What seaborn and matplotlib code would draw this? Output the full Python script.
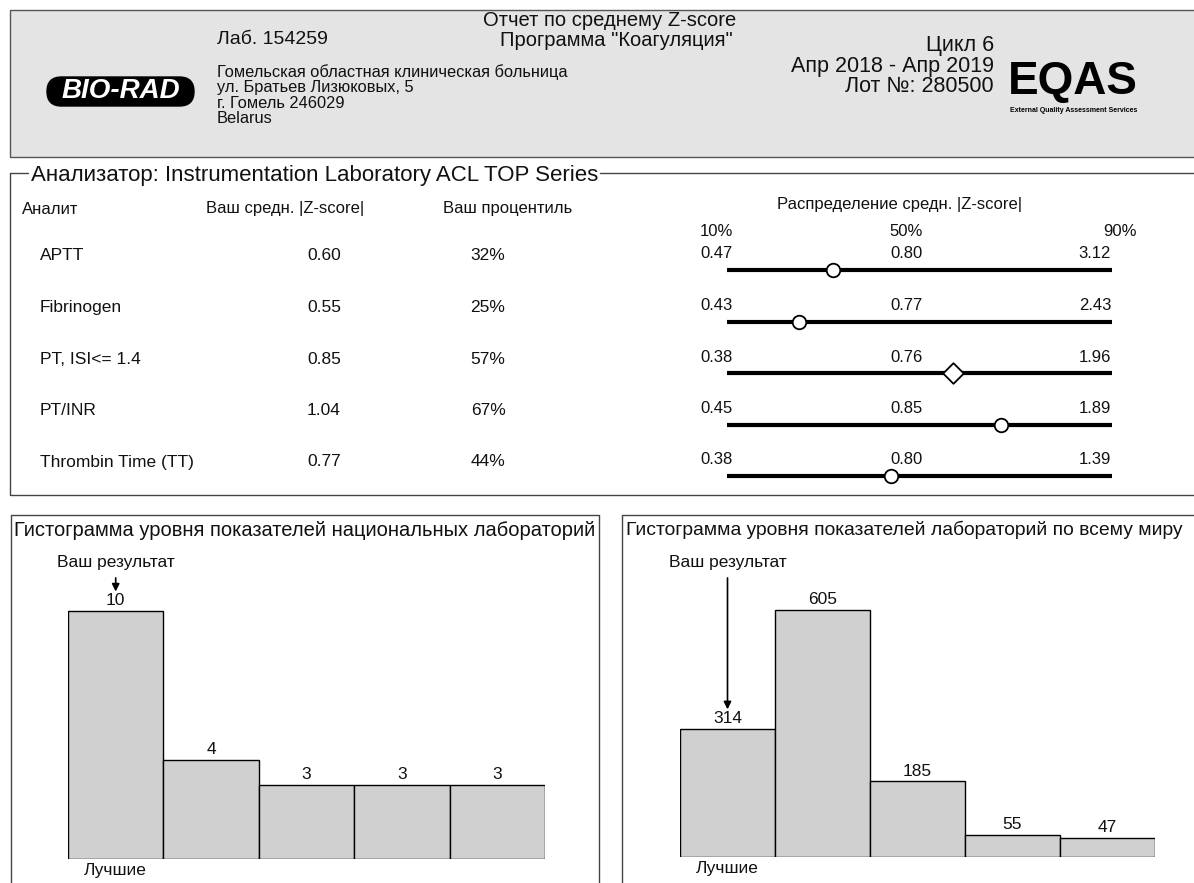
import matplotlib
matplotlib.use('Agg')
import matplotlib.pyplot as plt
import seaborn as sns
import pandas as pd
from matplotlib.patches import Rectangle, FancyBboxPatch

sns.set_style('white')
plt.rcParams['font.family'] = ['Liberation Sans', 'DejaVu Sans']

# report data
analytes = ['APTT', 'Fibrinogen', 'PT, ISI<= 1.4', 'PT/INR', 'Thrombin Time (TT)']
mean_z = [0.60, 0.55, 0.85, 1.04, 0.77]
percentile = [32, 25, 57, 67, 44]
p10 = [0.47, 0.43, 0.38, 0.45, 0.38]
p50 = [0.80, 0.77, 0.76, 0.85, 0.80]
p90 = [3.12, 2.43, 1.96, 1.89, 1.39]
marker_kind = ['circle', 'circle', 'diamond', 'circle', 'circle']
dist_ticks = [10, 50, 90]

hist_bins = ['1', '2', '3', '4', '5']
national_counts = [10, 4, 3, 3, 3]
world_counts = [314, 605, 185, 55, 47]
your_bin = 0

W, H = 1194, 883
ink = '#111111'
frame = '#444444'

fig = plt.figure(figsize=(W / 100, H / 100), dpi=100)
bg = fig.add_axes([0, 0, 1, 1])
bg.set_xlim(0, W)
bg.set_ylim(H, 0)
bg.axis('off')


def ax_rect(x0, y0, x1, y1):
    return [x0 / W, 1 - y1 / H, (x1 - x0) / W, (y1 - y0) / H]


# header
bg.add_patch(Rectangle((10, 10), 1200, 147, facecolor='#e4e4e4', edgecolor='#555555', lw=1))
bg.add_patch(FancyBboxPatch((47, 77), 147, 29, boxstyle='round,pad=0,rounding_size=14.5',
                            facecolor='black', edgecolor='black'))
bg.text(121, 91.5, 'BIO-RAD', color='white', fontsize=20, fontweight='bold', fontstyle='italic',
        ha='center', va='center')
bg.text(217, 40, 'Лаб. 154259', fontsize=14, va='center', color=ink)
addr = ['Гомельская областная клиническая больница', 'ул. Братьев Лизюковых, 5',
        'г. Гомель 246029', 'Belarus']
for i, line in enumerate(addr):
    bg.text(217, 72 + 15.5 * i, line, fontsize=11.8, va='center', color=ink)
bg.text(610, 21, 'Отчет по среднему Z-score', fontsize=14.5, ha='center', va='center', color=ink)
bg.text(616, 40, 'Программа "Коагуляция"', fontsize=14.5, ha='center', va='center', color=ink)
for i, line in enumerate(['Цикл 6', 'Апр 2018 - Апр 2019', 'Лот №: 280500']):
    bg.text(994, 46 + 20.5 * i, line, fontsize=15.5, ha='right', va='center', color=ink)
bg.text(1008, 82, 'EQAS', fontsize=33, fontweight='bold', va='center', color='black')
bg.text(1010, 110, 'External Quality Assessment Services', fontsize=5, fontweight='bold',
        va='center', color='black')

# analyser frame
bg.plot([10, 10, 1200], [173, 495, 495], color=frame, lw=1)
bg.plot([10, 28], [173, 173], color=frame, lw=1)
bg.plot([600, 1200], [173, 173], color=frame, lw=1)
bg.text(31, 176, 'Анализатор: Instrumentation Laboratory ACL TOP Series', fontsize=16,
        va='center', color=ink)
bg.text(22, 209, 'Аналит', fontsize=12, va='center', color=ink)
bg.text(285, 209, 'Ваш средн. |Z-score|', fontsize=12, ha='center', va='center', color=ink)
bg.text(508, 209, 'Ваш процентиль', fontsize=12, ha='center', va='center', color=ink)
bg.text(900, 205, 'Распределение средн. |Z-score|', fontsize=12, ha='center', va='center', color=ink)

for i, name in enumerate(analytes):
    y = 256 + 51.5 * i
    bg.text(40, y, name, fontsize=12.5, va='center', color=ink)
    bg.text(324, y, f'{mean_z[i]:.2f}', fontsize=12.5, ha='center', va='center', color=ink)
    bg.text(488, y, f'{percentile[i]}%', fontsize=12.5, ha='center', va='center', color=ink)

# percentile distribution lines
rows = pd.DataFrame({'percentile': percentile, 'row': range(len(analytes)), 'kind': marker_kind})
dax = fig.add_axes(ax_rect(727, 270 - 25.75, 1112, 270 + 51.5 * 4.5))
dax.hlines(rows['row'], 10, 90, color='black', lw=3, zorder=2)
sns.scatterplot(data=rows[rows.kind == 'circle'], x='percentile', y='row', marker='o', s=95,
                color='white', edgecolor='black', linewidth=1.3, ax=dax, zorder=3, clip_on=False)
sns.scatterplot(data=rows[rows.kind == 'diamond'], x='percentile', y='row', marker='D', s=110,
                color='white', edgecolor='black', linewidth=1.3, ax=dax, zorder=3, clip_on=False)
dax.set_xlim(10, 90)
dax.set_ylim(4.5, -0.5)
dax.axis('off')
for i in range(len(analytes)):
    dax.annotate(f'{p10[i]:.2f}', xy=(10, i), xytext=(-27, 16), textcoords='offset pixels',
                 ha='left', va='center', fontsize=12, color=ink, annotation_clip=False)
    dax.annotate(f'{p50[i]:.2f}', xy=(50, i), xytext=(-13, 16), textcoords='offset pixels',
                 ha='center', va='center', fontsize=12, color=ink, annotation_clip=False)
    dax.annotate(f'{p90[i]:.2f}', xy=(90, i), xytext=(-1, 16), textcoords='offset pixels',
                 ha='right', va='center', fontsize=12, color=ink, annotation_clip=False)
for t, dx, ha in zip(dist_ticks, [-27, -13, 25], ['left', 'center', 'right']):
    dax.annotate(f'{t}%', xy=(t, 0), xytext=(dx, 39), textcoords='offset pixels',
                 ha=ha, va='center', fontsize=12, color=ink, annotation_clip=False)

# histogram frames
bg.plot([11, 11, 599, 599], [900, 515, 515, 900], color=frame, lw=1)
bg.plot([622, 622, 1200], [900, 515, 515], color=frame, lw=1)
bg.text(14, 530, 'Гистограмма уровня показателей национальных лабораторий', fontsize=14.5,
        va='center', color=ink)
bg.text(626, 530, 'Гистограмма уровня показателей лабораторий по всему миру', fontsize=13.9,
        va='center', color=ink)


def draw_hist(rect, counts, max_px):
    ax = fig.add_axes(rect)
    sns.barplot(x=hist_bins, y=counts, order=hist_bins, ax=ax, color='#d0d0d0', saturation=1,
                width=1, edgecolor='black', linewidth=1)
    ax.set_xlim(-0.5, 4.5)
    ax.set_ylim(0, max(counts) * 300 / max_px)
    ax.axis('off')
    ax.bar_label(ax.containers[0], labels=[str(c) for c in counts], padding=2, fontsize=12.5,
                 color=ink)
    ax.annotate('Ваш результат', xy=(your_bin, counts[your_bin]), xytext=(your_bin, H - 563),
                textcoords=('data', 'figure pixels'), ha='center', va='center', fontsize=12.5,
                color=ink, annotation_clip=False,
                arrowprops=dict(arrowstyle='-|>', color='black', lw=1.2, shrinkA=3, shrinkB=14,
                                mutation_scale=11))
    ax.annotate('Лучшие', xy=(0, 0), xytext=(0, -12), textcoords='offset pixels', ha='center',
                va='center', fontsize=12.5, color=ink, annotation_clip=False)
    return ax


draw_hist(ax_rect(68, 559, 545, 859), national_counts, 248)
draw_hist(ax_rect(680, 557, 1155, 857), world_counts, 247)

fig.savefig('out.png', dpi=100)
